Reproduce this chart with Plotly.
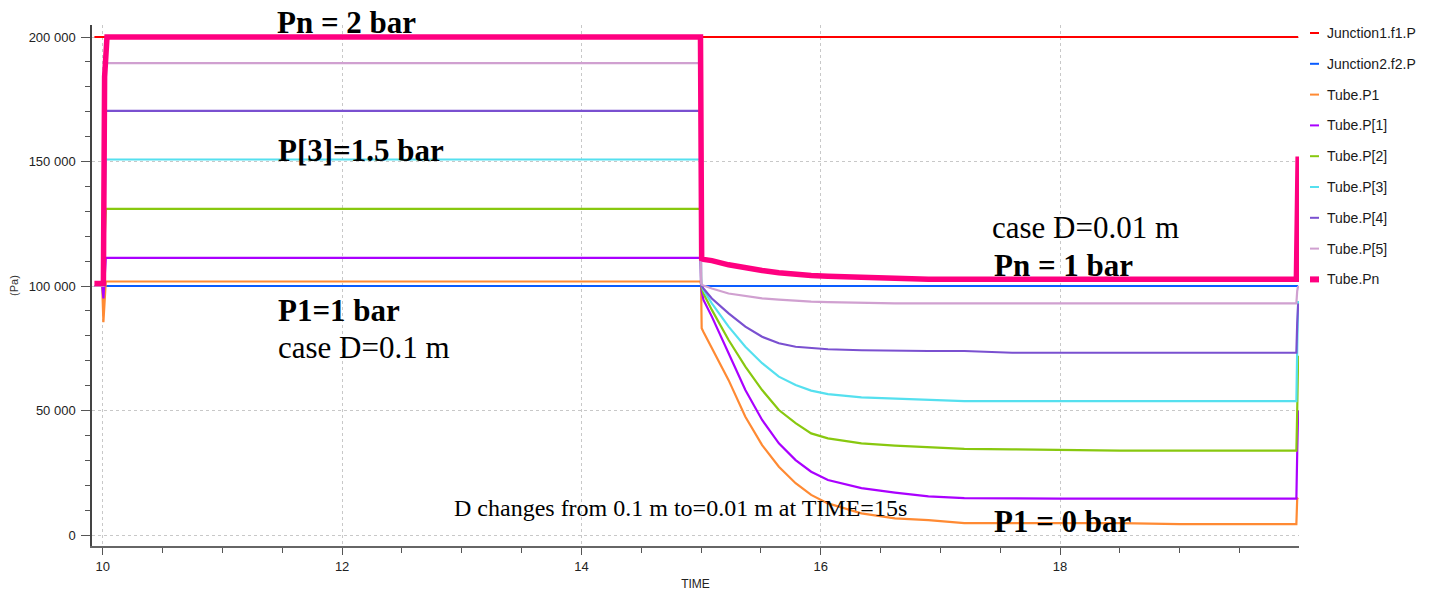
import plotly.graph_objects as go

# Sample times (s) shared by all pressure series
time_s = [9.93, 9.995, 10.005, 10.015, 10.025, 10.035, 14.995, 15.0, 15.005,
          15.02, 15.09, 15.23, 15.37, 15.51, 15.65, 15.79, 15.92, 16.06, 16.34,
          16.62, 16.9, 17.2, 17.6, 18.0, 18.5, 19.0, 19.5, 19.975, 19.982, 19.99]

# Pressures (Pa)
junction1_f1_p = [200000] * len(time_s)
junction2_f2_p = [100000] * len(time_s)
tube_p1 = [100000, 100000, 85500, 95000, 101800, 101800, 101800, 100500, 83000,
           81500, 75000, 62200, 47500, 36100, 27400, 20800, 16100, 12700, 8700,
           6700, 6000, 4800, 4800, 4800, 4800, 4400, 4400, 4400, 14600, 15000]
tube_p_1 = [100000, 100000, 95000, 105000, 111300, 111300, 111300, 101000, 98000,
            94400, 87700, 73000, 58200, 46200, 36800, 30100, 25400, 22100, 18800,
            17000, 15500, 14800, 14600, 14600, 14600, 14600, 14600, 14600, 33000, 50000]
tube_p_2 = [100000, 100000, 100000, 118000, 131000, 131000, 131000, 101000, 99500,
            97000, 90400, 78300, 67600, 58200, 50200, 44900, 40800, 38800, 36800,
            35900, 35200, 34600, 34400, 34100, 33900, 33900, 33900, 33900, 50000, 72000]
tube_p_3 = [100000, 100000, 100000, 130000, 150800, 150800, 150800, 101000, 100500,
            98400, 93000, 83700, 75600, 69000, 63600, 60200, 58000, 56600, 55300,
            54800, 54500, 53800, 53800, 53800, 53800, 53800, 53800, 53800, 75000, 94000]
tube_p_4 = [100000, 100000, 100000, 140000, 170300, 170300, 170300, 100800, 100000,
            99000, 95000, 89000, 83700, 79600, 77000, 75600, 75000, 74600, 74200,
            74000, 73900, 73900, 73200, 73200, 73200, 73200, 73200, 73200, 85000, 93000]
tube_p_5 = [100000, 100000, 100000, 150000, 189500, 189500, 189500, 101000, 100500,
            100200, 99000, 97000, 96000, 95000, 94500, 94000, 93700, 93500, 93200,
            93000, 93000, 93000, 93000, 93000, 93000, 93000, 93000, 93000, 98000, 100000]
tube_pn = [101000, 101000, 101000, 184000, 200000, 200000, 200000, 126000, 111000,
           110700, 110200, 108500, 107200, 106200, 105300, 104600, 104200, 103900, 103500,
           102900, 102700, 102700, 102700, 102700, 102700, 102700, 102700, 102700, 125000, 152000]

series_names = ["Junction1.f1.P", "Junction2.f2.P", "Tube.P1", "Tube.P[1]", "Tube.P[2]",
                "Tube.P[3]", "Tube.P[4]", "Tube.P[5]", "Tube.Pn"]
series_values = [junction1_f1_p, junction2_f2_p, tube_p1, tube_p_1, tube_p_2,
                 tube_p_3, tube_p_4, tube_p_5, tube_pn]
series_colors = ["#ff0000", "#0a5cff", "#ff8a33", "#aa00ff", "#88c80f",
                 "#55e0ef", "#7a50d0", "#d0a0d0", "#ff0080"]
series_widths = [2, 2, 2.2, 2.2, 2.2, 2.2, 2.2, 2.2, 5.5]

W, H = 1435, 592
ML, MR, MT, MB = 92, 136, 25, 46
PW, PH = W - ML - MR, H - MT - MB


def px(x):
    return (x - ML) / PW


def py(y):
    return (H - MB - y) / PH


fig = go.Figure()
for name, vals, color, width in zip(series_names, series_values, series_colors, series_widths):
    fig.add_trace(go.Scatter(
        x=time_s, y=vals, name=name, mode="lines",
        line=dict(color=color, width=width), showlegend=False,
    ))

# Compact legend on the right: short colour bar + label per series
sans = "Liberation Sans, Arial, sans-serif"
for i, (name, color, width) in enumerate(zip(series_names, series_colors, series_widths)):
    yc = 33 + i * 30.8
    thick = 6 if width > 3 else 2
    fig.add_shape(
        type="rect", xref="paper", yref="paper",
        x0=px(1310), x1=px(1319), y0=py(yc + thick / 2), y1=py(yc - thick / 2),
        fillcolor=color, line=dict(width=0),
    )
    fig.add_annotation(
        text=name, xref="paper", yref="paper", x=px(1325), y=py(yc),
        xanchor="left", yanchor="middle", showarrow=False,
        font=dict(family=sans, size=14, color="#1a1a1a"),
    )

serif = "Liberation Serif, Times New Roman, serif"
labels = [
    ("<b>Pn = 2 bar</b>", 275, 22, 31),
    ("<b>P[3]=1.5 bar</b>", 276, 150, 31),
    ("<b>P1=1 bar</b>", 276, 310, 31),
    ("case D=0.1 m", 276, 347, 31),
    ("case D=0.01 m", 990, 227, 31),
    ("<b>Pn = 1 bar</b>", 992, 265, 31),
    ("D changes from 0.1 m to=0.01 m at TIME=15s", 452, 508, 24),
    ("<b>P1 = 0 bar</b>", 992, 521, 31),
]
for text, x, y, size in labels:
    fig.add_annotation(
        text=text, xref="paper", yref="paper", x=px(x), y=py(y),
        xanchor="left", yanchor="middle", showarrow=False,
        font=dict(family=serif, size=size, color="#000000"),
    )

axis_font = dict(family=sans, size=13, color="#222222")

fig.update_layout(
    width=W, height=H,
    margin=dict(l=ML, r=MR, t=MT, b=MB),
    paper_bgcolor="white", plot_bgcolor="white",
    separators=". ",
    showlegend=False,
    xaxis=dict(
        range=[9.9097, 19.997], automargin=False,
        tick0=10, dtick=2, ticks="outside", ticklen=7, tickcolor="#555555",
        showline=True, linecolor="#666666", linewidth=2,
        showgrid=True, gridcolor="#c8c8c8", griddash="dot", gridwidth=1,
        zeroline=False, tickfont=axis_font,
        minor=dict(dtick=0.5, ticks="outside", ticklen=5, tickcolor="#555555", showgrid=False),
        title=dict(text="TIME", font=dict(family=sans, size=12, color="#222222"), standoff=7),
    ),
    yaxis=dict(
        range=[-4418, 204819], automargin=False,
        tick0=0, dtick=50000, tickformat=",d", ticks="outside", ticklen=9,
        tickcolor="#555555", ticklabelstandoff=3,
        showline=True, linecolor="#444444", linewidth=1.5,
        showgrid=True, gridcolor="#c8c8c8", griddash="dot", gridwidth=1,
        zeroline=False, tickfont=axis_font,
        minor=dict(dtick=10000, ticks="outside", ticklen=5, tickcolor="#555555", showgrid=False),
        title=dict(text="(Pa)", font=dict(family=sans, size=11, color="#333333"), standoff=8),
    ),
)

fig.write_html("out.html")
